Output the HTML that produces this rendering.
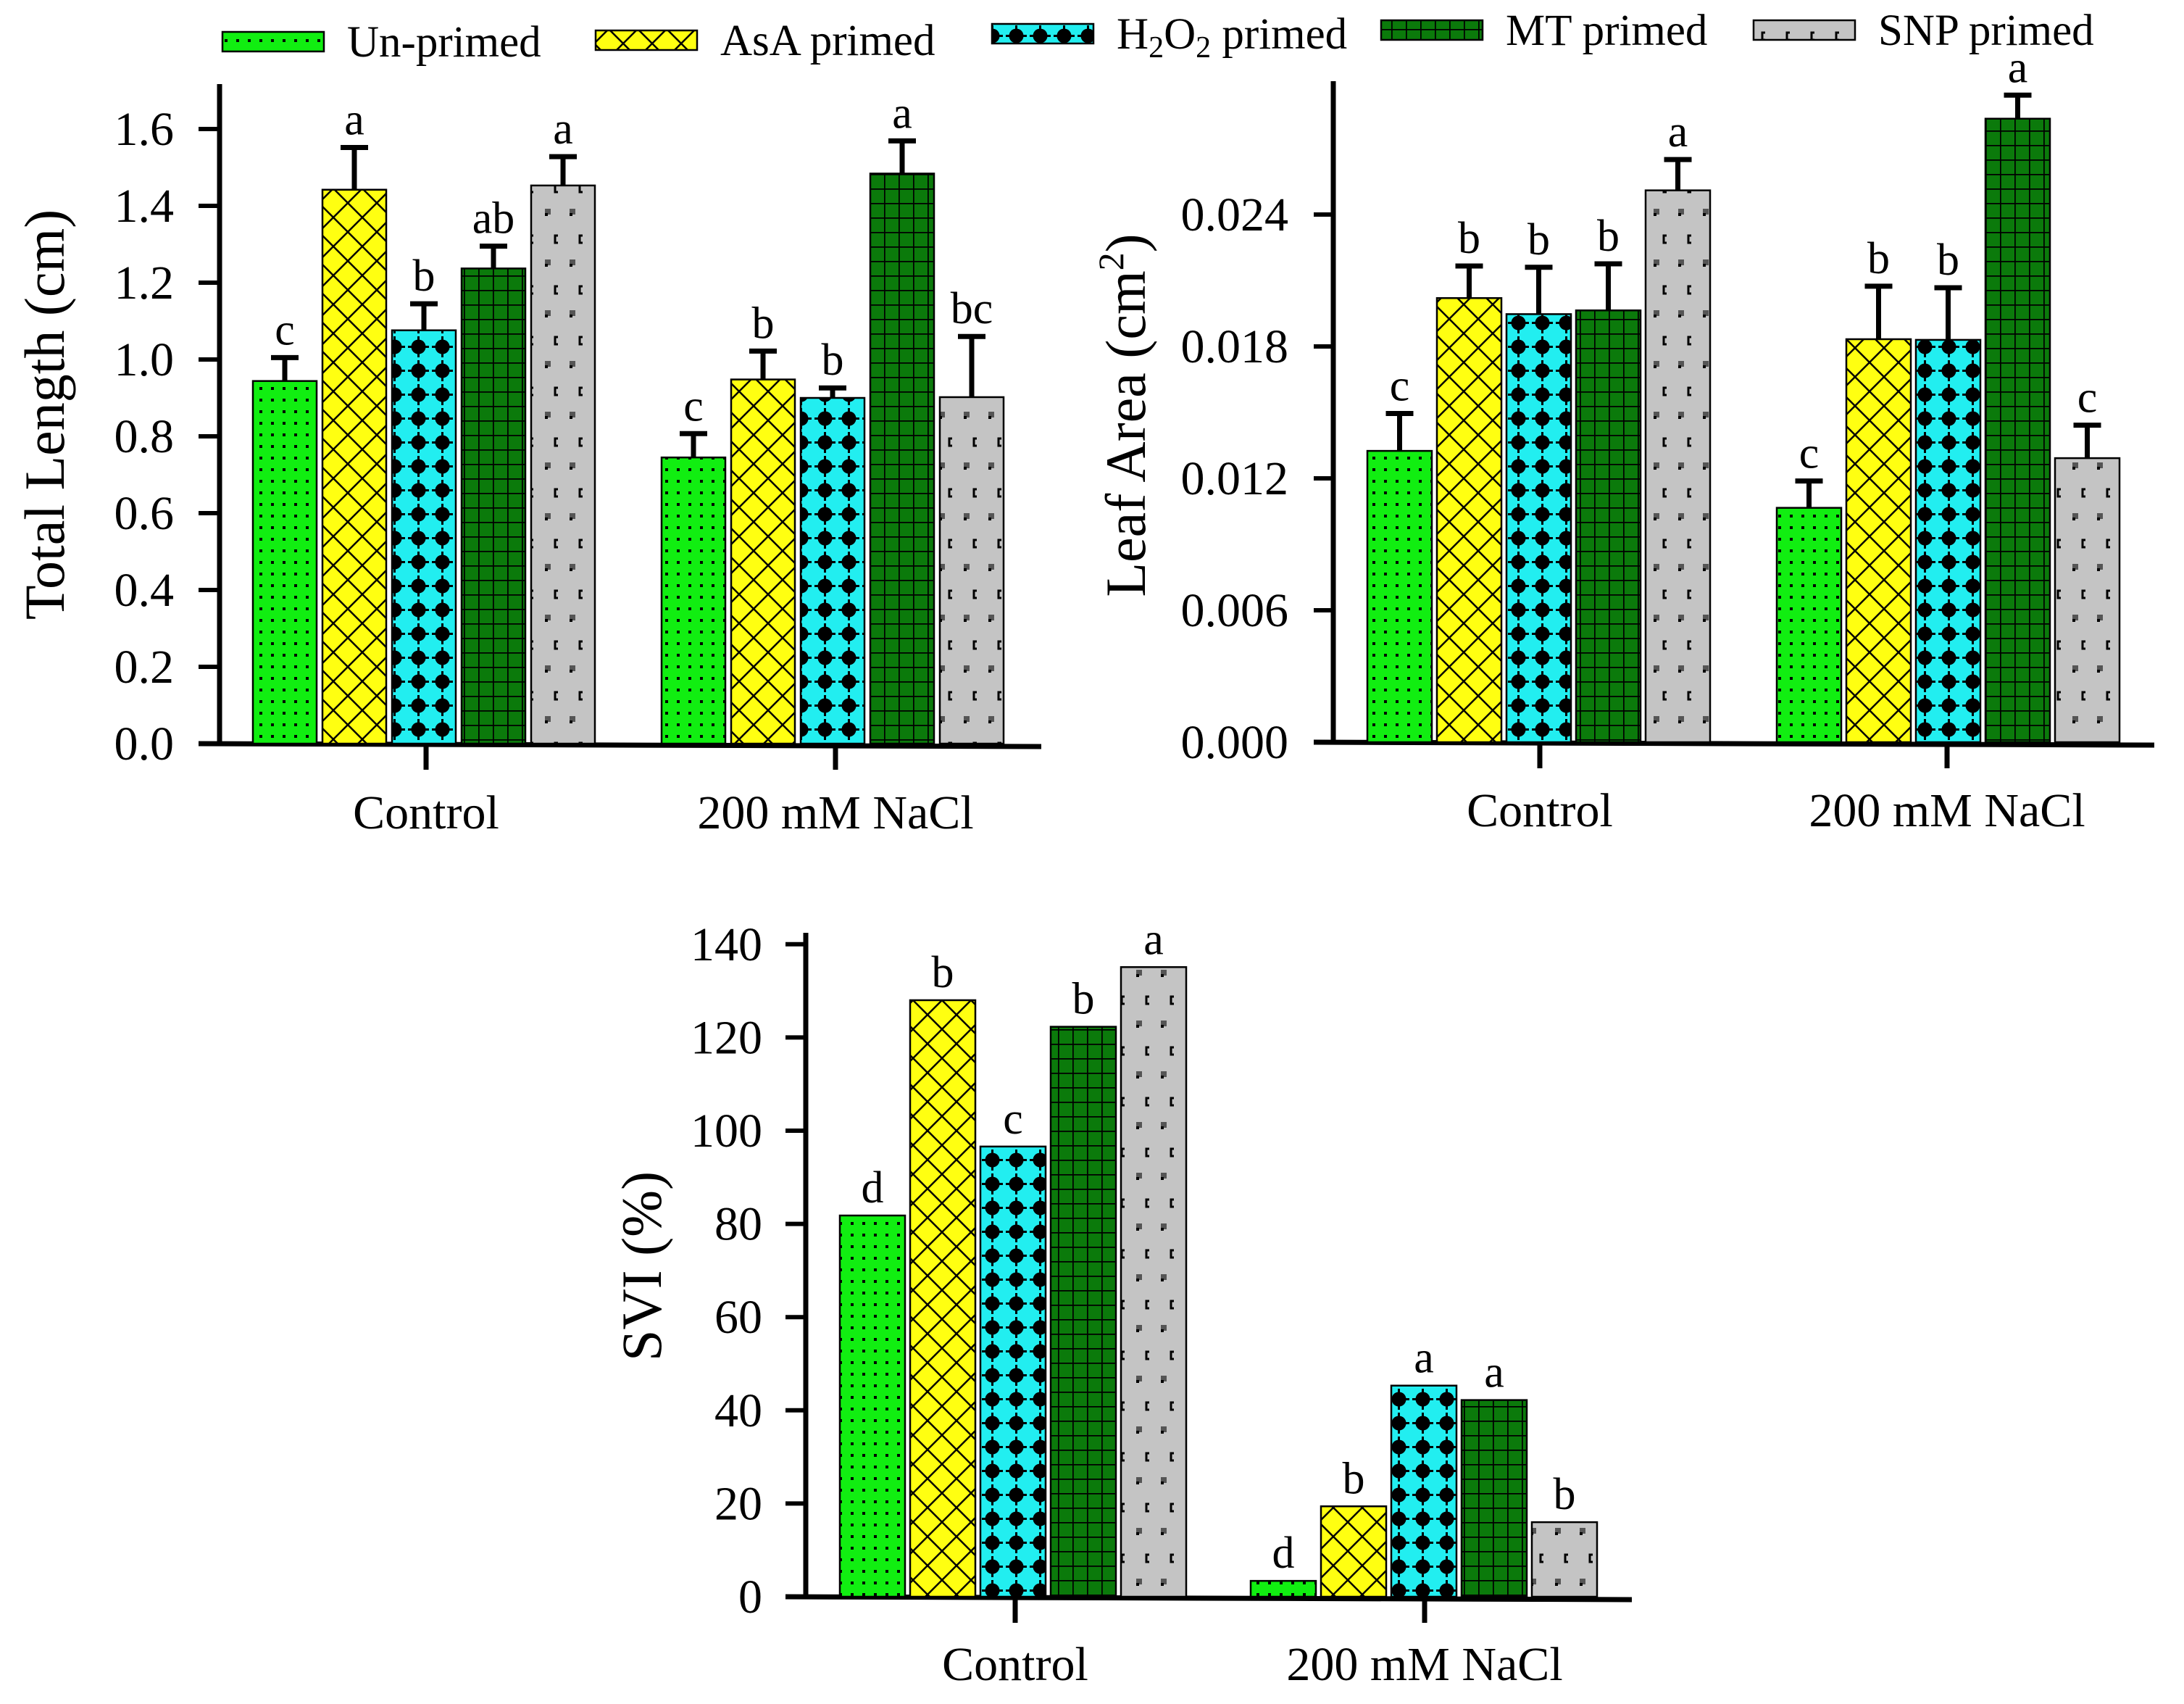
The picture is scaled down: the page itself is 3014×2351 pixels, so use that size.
<!DOCTYPE html>
<html><head><meta charset="utf-8">
<style>
html,body{margin:0;padding:0;background:#fff;}
svg{display:block;font-family:"Liberation Serif",serif;}
</style></head>
<body>
<svg id="fig" width="3014" height="2351" viewBox="0 0 3014 2351" xmlns="http://www.w3.org/2000/svg">
<defs>
<pattern id="p0" patternUnits="userSpaceOnUse" width="16" height="16"><rect width="16" height="16" fill="#11ee11"/><rect x="6" y="6" width="4" height="4" fill="#000"/></pattern>
<pattern id="p1" patternUnits="userSpaceOnUse" width="40" height="40"><rect width="40" height="40" fill="#ffff11"/><path d="M0 0L40 40M40 0L0 40" stroke="#000" stroke-width="2.5"/></pattern>
<pattern id="p2" patternUnits="userSpaceOnUse" width="33" height="33"><rect width="33" height="33" fill="#22eef0"/><circle cx="16.5" cy="16.5" r="10" fill="#000"/><path d="M2 16.5H31M16.5 2V31" stroke="#000" stroke-width="3"/></pattern>
<pattern id="p3" patternUnits="userSpaceOnUse" width="20" height="20"><rect width="20" height="20" fill="#0b7a0b"/><path d="M0 0.5H20M0.5 0V20" stroke="#000" stroke-width="2.5"/></pattern>
<pattern id="p4" patternUnits="userSpaceOnUse" width="34" height="70"><rect width="34" height="70" fill="#c4c4c4"/><rect x="4" y="8" width="8" height="8" fill="#555"/><rect x="4" y="14" width="4" height="4" fill="#000"/><path d="M22 45h-4v10h4" stroke="#000" stroke-width="3" fill="none"/></pattern>
</defs>
<g id="legend"></g>
<g id="c1"></g>
<g id="c2"></g>
<g id="c3"></g>
</svg>
<script>
const series = ["Un-primed","AsA primed","H2O2 primed","MT primed","SNP primed"];
const categories = ["Control","200 mM NaCl"];
const lenVals = [[0.944,1.442,1.076,1.237,1.453],[0.745,0.948,0.900,1.484,0.902]];
const lenErr = [[0.061,0.110,0.069,0.058,0.075],[0.062,0.074,0.026,0.085,0.158]];
const lenLetters = [["c","a","b","ab","a"],["c","b","b","a","bc"]];
const lenTicks = ["0.0","0.2","0.4","0.6","0.8","1.0","1.2","1.4","1.6"];
const areaVals = [[0.01325,0.0202,0.01947,0.01964,0.0251],[0.01066,0.01833,0.0183,0.02836,0.01292]];
const areaErr = [[0.0017,0.00146,0.00213,0.00212,0.0014],[0.00122,0.00241,0.00237,0.00107,0.0015]];
const areaLetters = [["c","b","b","b","a"],["c","b","b","a","c"]];
const areaTicks = ["0.000","0.006","0.012","0.018","0.024"];
const sviVals = [[81.8,128,96.6,122.3,135.1],[3.4,19.4,45.3,42.2,16]];
const sviLetters = [["d","b","c","b","a"],["d","b","a","a","b"]];
const sviTicks = ["0","20","40","60","80","100","120","140"];

const NS="http://www.w3.org/2000/svg";
function mk(tag,attrs,parent){const e=document.createElementNS(NS,tag);for(const k in attrs)e.setAttribute(k,attrs[k]);parent.appendChild(e);return e;}

function chart(g,o){
  const y=v=>o.y0-(v/o.tickStep)*o.tickPx;
  let a=mk("line",{x1:o.ax,y1:o.top,x2:o.ax,y2:o.y0+3,stroke:"#000","stroke-width":7},g);
  
  
  a=mk("line",{x1:o.tickL,y1:o.y0,x2:o.xEnd,y2:o.y0+4,stroke:"#000","stroke-width":7},g);
  
  
  o.ticks.forEach((t,i)=>{
    const yy=o.y0-i*o.tickPx;
    const l=mk("line",{x1:o.tickL,y1:yy,x2:o.ax,y2:yy,stroke:"#000","stroke-width":6},g);
    
    
    const tx=mk("text",{x:o.labR,y:yy+22,"text-anchor":"end","font-size":66},g);
    tx.textContent=t;
    
    
  });
  categories.forEach((c,ci)=>{
    const l=mk("line",{x1:o.catX[ci],y1:o.y0,x2:o.catX[ci],y2:o.y0+36,stroke:"#000","stroke-width":7},g);
    
    
    const t=mk("text",{x:o.catX[ci],y:o.catY,"text-anchor":"middle","font-size":66},g);
    t.textContent=c;
    
    
    o.vals[ci].forEach((v,si)=>{
      const x=o.gStart[ci]+si*o.step;
      const r=mk("rect",{x:x,y:y(v),width:o.bw,height:o.y0-y(v),fill:"url(#p"+si+")",stroke:"#000","stroke-width":2.5},g);
      
      
      let topY=y(v);
      if(o.err){
        const ey=y(v+o.err[ci][si]);
        const cx=x+o.bw/2;
        const e=mk("path",{d:`M${cx} ${topY}V${ey}M${cx-19} ${ey}H${cx+19}`,stroke:"#000","stroke-width":7,fill:"none"},g);
        
        
        topY=ey;
      }
      const lt=mk("text",{x:x+o.bw/2,y:topY-18,"text-anchor":"middle","font-size":62},g);
      lt.textContent=o.letters[ci][si];
      
      
    });
  });
  const tt=mk("text",{x:0,y:0,"text-anchor":"middle","font-size":78,transform:`translate(${o.titleX},${o.titleY}) rotate(-90)`},g);
  tt.innerHTML=o.title;
  
  
}

chart(document.getElementById('c1'),{ax:303,top:116,y0:1026,tickL:274,xEnd:1437,tickStep:0.2,tickPx:106,labR:240,ticks:lenTicks,
  catX:[588,1153],catY:1143,gStart:[349,913],step:96,bw:88,vals:lenVals,err:lenErr,letters:lenLetters,
  title:"Total Length (cm)",titleX:88,titleY:572});
chart(document.getElementById('c2'),{ax:1840,top:112,y0:1024,tickL:1813,xEnd:2973,tickStep:0.006,tickPx:182,labR:1778,ticks:areaTicks,
  catX:[2125,2687],catY:1140,gStart:[1887,2452],step:96,bw:89,vals:areaVals,err:areaErr,letters:areaLetters,
  title:'Leaf Area (cm<tspan dy="-30" font-size="50">2</tspan><tspan dy="30">)</tspan>',titleX:1580,titleY:573});
chart(document.getElementById('c3'),{ax:1112,top:1287,y0:2203,tickL:1084,xEnd:2252,tickStep:20,tickPx:128.6,labR:1052,ticks:sviTicks,
  catX:[1401,1966],catY:2318,gStart:[1159,1726],step:97,bw:90,vals:sviVals,err:null,letters:sviLetters,
  title:"SVI (%)",titleX:912,titleY:1747});

const lg=document.getElementById('legend');
const lgSwX=[307,822,1369,1906,2420];
const lgY=[44,42,33,28,28];
const lgTxt=["Un-primed","AsA primed",'H<tspan dy="12" font-size="42">2</tspan><tspan dy="-12">O</tspan><tspan dy="12" font-size="42">2</tspan><tspan dy="-12"> primed</tspan>',"MT primed","SNP primed"];
series.forEach((s,i)=>{
  const r=mk("rect",{x:lgSwX[i],y:lgY[i],width:140,height:27,fill:"url(#p"+i+")",stroke:"#000","stroke-width":2.5},lg);
  
  
  const t=mk("text",{x:lgSwX[i]+172,y:lgY[i]+34,"font-size":61},lg);
  t.innerHTML=lgTxt[i];
  
  
});
</script>
</body></html>
